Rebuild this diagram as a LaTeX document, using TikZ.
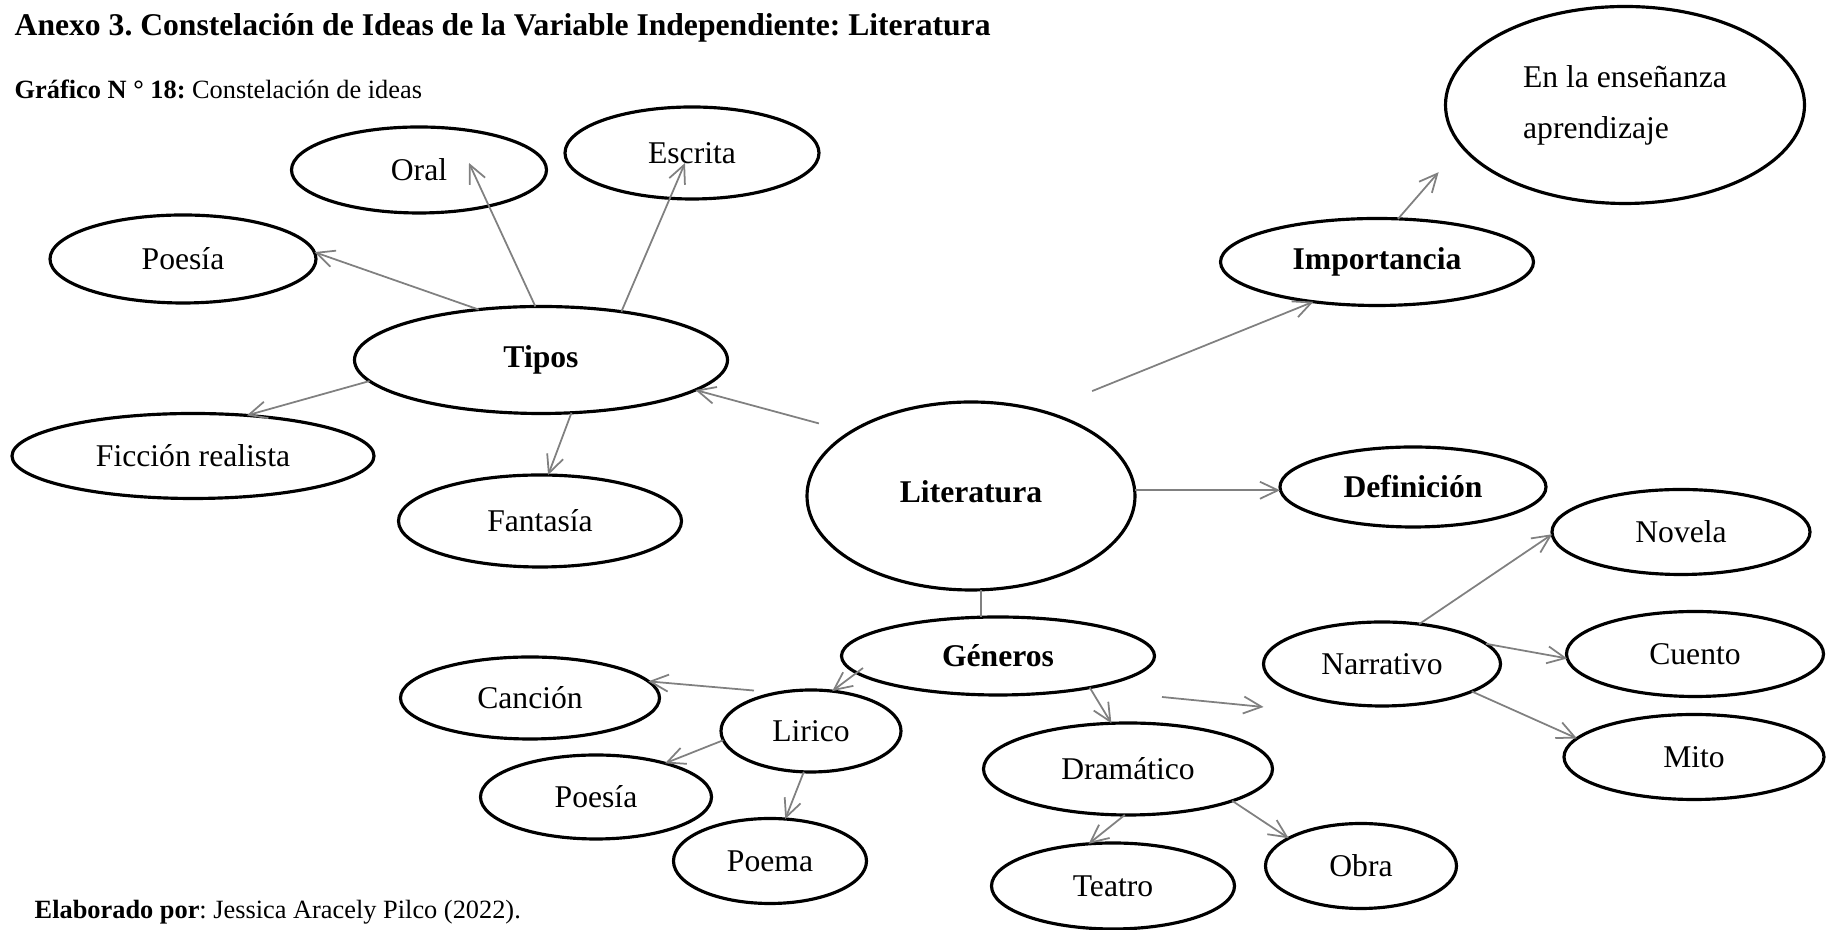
\documentclass[tikz,border=0pt]{standalone}
\usepackage{fontspec}
\setmainfont{Liberation Serif}
\usepackage{tikz}
\usetikzlibrary{arrows.meta, shapes.geometric, positioning}
\frenchspacing

\begin{document}
\begin{tikzpicture}[
  idea/.style 2 args={ellipse, draw, line width=0.9pt, inner sep=0pt, outer sep=0pt,
    minimum width=#1cm, minimum height=#2cm, font=\fontsize{9}{11}\selectfont},
  arr/.style={-{Straight Barb[length=1.8mm,width=1.7mm]}, draw=black!50, line width=0.5pt},
  con/.style={draw=black!50, line width=0.5pt},
  txt/.style={anchor=west, inner sep=0pt}
]
\useasboundingbox (0,0) rectangle (18.3,9.3);

\node[txt] (titulo) at (0.14,9.02) {\fontsize{9}{11}\selectfont\bfseries Anexo 3. Constelación de Ideas de la Variable Independiente: Literatura};
\node[txt] (grafico) at (0.14,8.41) {\fontsize{7.5}{9}\selectfont\textbf{Gráfico N ° 18:} Constelación de ideas};
\node[txt] (autor) at (0.34,0.18) {\fontsize{7.5}{9}\selectfont\textbf{Elaborado por}: Jessica Aracely Pilco (2022).};

\node[idea={2.55}{0.86}] (oral) at (4.19,7.60) {Oral};
\node[idea={2.54}{0.92}] (escrita) at (6.92,7.77) {Escrita};
\node[idea={3.59}{1.97}, align=left] (ens) at (16.25,8.25) {En la enseñanza\\[3.5pt]aprendizaje};
\node[idea={2.66}{0.88}] (poesiaA) at (1.83,6.71) {Poesía};
\node[idea={3.13}{0.87}] (imp) at (13.77,6.68) {\textbf{Importancia}};
\node[idea={3.73}{1.07}] (tipos) at (5.41,5.70) {\textbf{Tipos}};
\node[idea={3.62}{0.85}] (ficcion) at (1.93,4.74) {Ficción realista};
\node[idea={2.83}{0.92}] (fantasia) at (5.40,4.09) {Fantasía};
\node[idea={3.28}{1.88}] (lit) at (9.71,4.34) {\raisebox{0.8mm}{\textbf{Literatura}}};
\node[idea={2.66}{0.80}] (def) at (14.13,4.43) {\textbf{Definición}};
\node[idea={2.58}{0.85}] (novela) at (16.81,3.98) {Novela};
\node[idea={3.13}{0.78}] (gen) at (9.98,2.74) {\textbf{Géneros}};
\node[idea={2.37}{0.84}] (narr) at (13.82,2.66) {Narrativo};
\node[idea={2.57}{0.85}] (cuento) at (16.95,2.76) {Cuento};
\node[idea={2.59}{0.82}] (cancion) at (5.30,2.32) {Canción};
\node[idea={1.80}{0.82}] (lirico) at (8.11,1.99) {Lirico};
\node[idea={2.89}{0.92}] (dram) at (11.28,1.61) {Dramático};
\node[idea={2.60}{0.85}] (mito) at (16.94,1.73) {Mito};
\node[idea={2.31}{0.84}] (poesiaB) at (5.96,1.33) {Poesía};
\node[idea={1.93}{0.85}] (poema) at (7.70,0.69) {Poema};
\node[idea={2.43}{0.86}] (teatro) at (11.13,0.44) {Teatro};
\node[idea={1.91}{0.85}] (obra) at (13.61,0.64) {Obra};

\draw[arr] (tipos.141) -- (poesiaA.3);
\draw[arr] (tipos.96) -- ([shift={(0.50,0.07)}]oral.center);
\draw[arr] (tipos.31) -- ([shift={(-0.07,-0.10)}]escrita.center);
\draw[arr] (tipos.187) -- (ficcion.37);
\draw[arr] (tipos.300) -- (fantasia.80);
\draw[arr, shorten <=3.3mm] (lit.152) -- (tipos.349);
\draw[arr, shorten <=5.4mm] (lit.50) -- (imp.212);
\draw[arr, shorten >=3.5mm] (imp.64) -- (ens.194);
\draw[arr] (lit.2) -- (lit.2 -| def.west);
\draw[con] (lit.276) -- (lit.276 |- gen.north);

\draw[arr] ([shift={(-1.35,-0.12)}]gen.center) -- (lirico.62);
\draw[arr, shorten <=2.5mm] (lirico.130) -- (cancion.8);
\draw[arr] (lirico.186) -- (poesiaB.26);
\draw[arr] (lirico.260) -- (poema.70);
\draw[arr] (gen.341) -- (dram.110);
\draw[arr] ([shift={(0.075,-0.41)}]gen.east) -- ([shift={(0,-0.43)}]narr.west);
\draw[arr] (narr.47) -- (novela.181);
\draw[arr] (narr.11) -- (cuento.182);
\draw[arr] (narr.343) -- (mito.171);
\draw[arr] (dram.266) -- (teatro.120);
\draw[arr] (dram.343) -- (obra.159);

\end{tikzpicture}
\end{document}
